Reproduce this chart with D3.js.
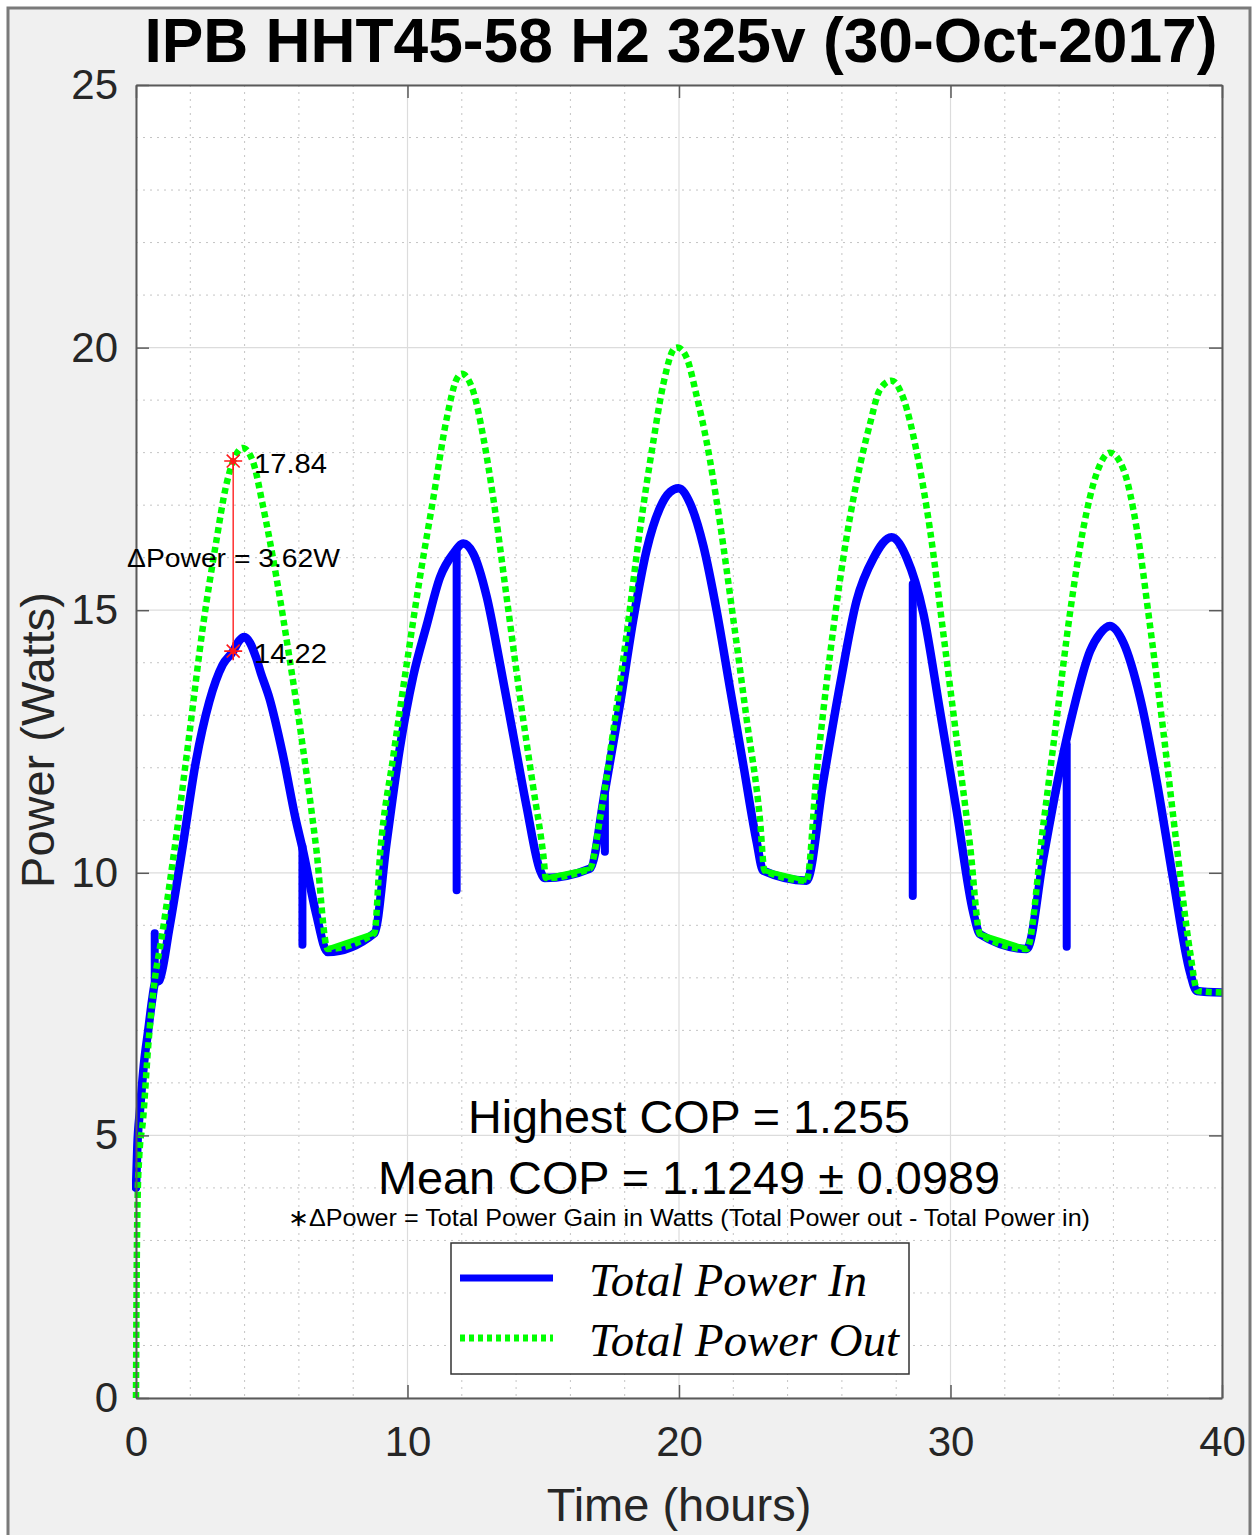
<!DOCTYPE html>
<html>
<head>
<meta charset="utf-8">
<script src="https://cdn.jsdelivr.net/npm/d3@7"></script>
<style>
  html, body { margin: 0; padding: 0; background: #ffffff; }
  svg { display: block; }
</style>
</head>
<body>
<svg id="chart" width="1253" height="1535"></svg>
<script>
// ---------------- DATA ----------------
const chartTitle = "IPB HHT45-58 H2 325v (30-Oct-2017)";
const xLabel = "Time (hours)";
const yLabel = "Power (Watts)";
const xTicks = [0, 10, 20, 30, 40];
const yTicks = [0, 5, 10, 15, 20, 25];
const xMinor = [2, 4, 6, 8, 12, 14, 16, 18, 22, 24, 26, 28, 32, 34, 36, 38];
const yMinor = [1, 2, 3, 4, 6, 7, 8, 9, 11, 12, 13, 14, 16, 17, 18, 19, 21, 22, 23, 24];

const seriesNames = ["Total Power In", "Total Power Out"];

// Total Power In (main trace)
const timeIn = [0, 0.05, 0.15, 0.3, 0.45, 0.6, 0.7, 0.86, 1.23, 1.72, 2.21, 2.7, 3.19, 3.58, 3.8, 3.99, 4.2, 4.42, 4.6, 4.91, 5.4, 5.89, 6.14, 6.63, 7.06,
  8.78, 9.23, 9.72, 10.21, 10.71, 11.2, 11.69, 12.06, 12.42, 12.92, 13.41, 13.9, 14.39, 14.88, 15.06,
  16.72, 17.27, 17.83, 18.32, 18.81, 19.3, 19.67, 19.98, 20.41, 20.9, 21.39, 21.88, 22.37, 22.86, 23.1,
  24.7, 25.31, 25.93, 26.54, 27.16, 27.83, 28.39, 29.0, 29.61, 30.23, 30.84, 31.09,
  32.81, 33.42, 33.91, 34.52, 35.14, 35.5, 35.87, 36.37, 36.98, 37.6, 38.2, 38.82, 39.07, 40];
const powerIn = [4.0, 4.8, 5.5, 6.4, 7.0, 7.6, 7.9, 7.95, 8.95, 10.5, 12.13, 13.26, 13.96, 14.22, 14.42, 14.49, 14.38, 14.1, 13.8, 13.33, 12.27, 11.0, 10.45, 9.23, 8.49,
  8.85, 10.57, 12.38, 13.74, 14.72, 15.63, 16.08, 16.27, 16.08, 15.25, 13.97, 12.61, 11.25, 10.05, 9.9,
  10.08, 11.55, 13.22, 14.83, 16.15, 16.95, 17.25, 17.32, 17.03, 16.22, 14.98, 13.51, 12.05, 10.59, 10.04,
  9.85, 11.73, 13.58, 15.18, 15.99, 16.39, 15.99, 14.94, 13.09, 11.17, 9.24, 8.83,
  8.55, 10.28, 11.65, 13.09, 14.22, 14.55, 14.7, 14.38, 13.34, 11.73, 9.88, 8.11, 7.75, 7.72];

// Total Power In: short downward/upward glitches (time, from, to)
const spikeTime = [0.69, 6.13, 11.81, 17.27, 28.61, 34.28];
const spikeFrom = [7.9, 10.5, 16.15, 11.55, 15.5, 12.45];
const spikeTo = [8.85, 8.63, 9.67, 10.4, 9.56, 8.59];

// Total Power Out
const timeOut = [0, 0.02, 0.06, 0.12, 0.26, 0.45, 0.63, 0.98, 1.47, 1.96, 2.46, 2.95, 3.31, 3.58, 3.93, 4.30, 4.67, 5.16, 5.65, 6.14, 6.63, 7.06,
  8.78, 8.99, 9.48, 9.97, 10.46, 10.95, 11.44, 11.81, 12.0, 12.42, 12.8, 13.16, 13.65, 14.14, 14.63, 15.0, 15.1,
  16.72, 17.09, 17.58, 18.07, 18.56, 19.05, 19.42, 19.85, 19.95, 20.28, 20.65, 21.02, 21.51, 22.0, 22.49, 22.98, 23.15,
  24.7, 25.07, 25.56, 26.05, 26.54, 27.04, 27.4, 27.83, 28.26, 28.76, 29.24, 29.74, 30.23, 30.72, 31.09,
  32.81, 33.42, 33.91, 34.4, 34.89, 35.38, 35.87, 36.37, 36.86, 37.35, 37.84, 38.33, 38.82, 39.1, 40];
const powerOut = [0, 2.0, 3.8, 4.6, 5.3, 6.7, 7.7, 8.88, 10.65, 12.62, 14.67, 16.29, 17.35, 17.84, 18.09, 17.84, 17.0, 15.66, 14.1, 12.41, 10.5, 8.55,
  8.85, 10.35, 12.23, 13.97, 15.63, 17.13, 18.64, 19.4, 19.5, 19.17, 18.27, 17.13, 15.25, 13.36, 11.63, 10.35, 9.9,
  10.08, 11.03, 12.71, 14.54, 16.52, 18.2, 19.3, 19.99, 20.0, 19.81, 19.08, 18.2, 16.66, 14.83, 12.93, 11.03, 10.04,
  9.85, 11.9, 14.14, 15.99, 17.44, 18.56, 19.2, 19.37, 19.04, 18.0, 16.55, 14.54, 12.53, 10.52, 8.83,
  8.55, 10.92, 12.93, 14.94, 16.55, 17.6, 18.0, 17.68, 16.55, 14.7, 12.69, 10.52, 8.51, 7.75, 7.72];

// annotation (data tip) values
const markTime = 3.58;
const markOut = 17.84;
const markIn = 14.22;
const deltaText = "\u0394Power = 3.62W";
const cop1Text = "Highest COP = 1.255";
const cop2Text = "Mean COP = 1.1249 \u00B1 0.0989";
const noteText = "\u2217\u0394Power = Total Power Gain in Watts (Total Power out - Total Power in)";

// ---------------- LAYOUT ----------------
const W = 1253, H = 1535;
const plot = { left: 136, right: 1222, top: 85, bottom: 1398 };
const SANS = "'Liberation Sans', Arial, Helvetica, sans-serif";
const SERIF = "'Liberation Serif', 'Times New Roman', serif";
const svg = d3.select("#chart").style("font-family", SANS);

// figure background and border
svg.append("rect").attr("x", 0).attr("y", 0).attr("width", W).attr("height", H).attr("fill", "#ffffff");
svg.append("rect").attr("x", 8).attr("y", 8).attr("width", W - 11).attr("height", H + 20)
  .attr("fill", "#f0f0f0").attr("stroke", "#7a7a7a").attr("stroke-width", 3);

const x = d3.scaleLinear().domain([0, 40]).range([plot.left, plot.right]);
const y = d3.scaleLinear().domain([0, 25]).range([plot.bottom, plot.top]);

// plot area
svg.append("rect").attr("x", plot.left).attr("y", plot.top)
  .attr("width", plot.right - plot.left).attr("height", plot.bottom - plot.top).attr("fill", "#ffffff");

// minor grid
const grid = svg.append("g");
grid.selectAll(".mx").data(xMinor).join("line")
  .attr("x1", d => x(d)).attr("x2", d => x(d)).attr("y1", plot.top).attr("y2", plot.bottom)
  .attr("stroke", "#c4c4c4").attr("stroke-width", 1).attr("stroke-dasharray", "2,5");
grid.selectAll(".my").data(yMinor).join("line")
  .attr("y1", d => y(d)).attr("y2", d => y(d)).attr("x1", plot.left).attr("x2", plot.right)
  .attr("stroke", "#c4c4c4").attr("stroke-width", 1).attr("stroke-dasharray", "2,5");
// major grid
grid.selectAll(".Mx").data(xTicks).join("line")
  .attr("x1", d => x(d)).attr("x2", d => x(d)).attr("y1", plot.top).attr("y2", plot.bottom)
  .attr("stroke", "#dcdcdc").attr("stroke-width", 1.2);
grid.selectAll(".My").data(yTicks).join("line")
  .attr("y1", d => y(d)).attr("y2", d => y(d)).attr("x1", plot.left).attr("x2", plot.right)
  .attr("stroke", "#dcdcdc").attr("stroke-width", 1.2);

// lines
const lineGen = d3.line().x(d => x(d[0])).y(d => y(d[1])).curve(d3.curveMonotoneX);
const dataIn = timeIn.map((t, i) => [t, powerIn[i]]);
const dataOut = timeOut.map((t, i) => [t, powerOut[i]]);
const spikes = spikeTime.map((t, i) => ({ t, a: spikeFrom[i], b: spikeTo[i] }));

svg.append("clipPath").attr("id", "clip").append("rect")
  .attr("x", plot.left - 4).attr("y", plot.top).attr("width", plot.right - plot.left + 4).attr("height", plot.bottom - plot.top + 4);

const lines = svg.append("g").attr("clip-path", "url(#clip)");
lines.append("path").datum(dataIn).attr("d", lineGen)
  .attr("fill", "none").attr("stroke", "#0000ff").attr("stroke-width", 8.5)
  .attr("stroke-linejoin", "round").attr("stroke-linecap", "round");
lines.selectAll(".spike").data(spikes).join("line")
  .attr("x1", d => x(d.t)).attr("x2", d => x(d.t)).attr("y1", d => y(d.a)).attr("y2", d => y(d.b))
  .attr("stroke", "#0000ff").attr("stroke-width", 8).attr("stroke-linecap", "round");
lines.append("path").datum(dataOut).attr("d", lineGen)
  .attr("fill", "none").attr("stroke", "#00ff00").attr("stroke-width", 6.5)
  .attr("stroke-dasharray", "6,4");
// long flat gaps in the record are drawn as continuous green segments
const gaps = dataOut.slice(1).map((d, i) => [dataOut[i], d]).filter(p => p[1][0] - p[0][0] > 1);
lines.selectAll(".gap").data(gaps).join("line")
  .attr("x1", d => x(d[0][0])).attr("y1", d => y(d[0][1])).attr("x2", d => x(d[1][0])).attr("y2", d => y(d[1][1]))
  .attr("stroke", "#00ff00").attr("stroke-width", 5);

// axes (inward ticks, box)
const axisColor = "#5a5a5a";
const gB = svg.append("g").attr("transform", `translate(0,${plot.bottom})`)
  .call(d3.axisBottom(x).tickValues(xTicks).tickSizeInner(-13).tickSizeOuter(0).tickPadding(28));
const gL = svg.append("g").attr("transform", `translate(${plot.left},0)`)
  .call(d3.axisLeft(y).tickValues(yTicks).tickSizeInner(-13).tickSizeOuter(0).tickPadding(18));
const gT = svg.append("g").attr("transform", `translate(0,${plot.top})`)
  .call(d3.axisTop(x).tickValues(xTicks).tickSizeInner(-13).tickSizeOuter(0).tickFormat(""));
const gR = svg.append("g").attr("transform", `translate(${plot.right},0)`)
  .call(d3.axisRight(y).tickValues(yTicks).tickSizeInner(-13).tickSizeOuter(0).tickFormat(""));
[gB, gL, gT, gR].forEach(g => {
  g.select(".domain").attr("stroke", axisColor).attr("stroke-width", 2);
  g.selectAll(".tick line").attr("stroke", axisColor).attr("stroke-width", 1.5);
  g.selectAll(".tick text").attr("fill", "#262626")
    .style("font-size", "42px").style("font-family", SANS);
});

// title and labels
svg.append("text").attr("x", 681).attr("y", 62).attr("text-anchor", "middle")
  .style("font-size", "63px").style("font-weight", "bold").attr("fill", "#000")
  .attr("textLength", 1073).attr("lengthAdjust", "spacingAndGlyphs").text(chartTitle);
svg.append("text").attr("x", 679).attr("y", 1521).attr("text-anchor", "middle")
  .style("font-size", "47px").attr("fill", "#262626").text(xLabel);
svg.append("text").attr("transform", "translate(54,740) rotate(-90)").attr("text-anchor", "middle")
  .style("font-size", "47px").attr("fill", "#262626").text(yLabel);

// COP texts
svg.append("text").attr("x", 689).attr("y", 1133).attr("text-anchor", "middle")
  .style("font-size", "46px").attr("fill", "#000").attr("textLength", 442).attr("lengthAdjust", "spacingAndGlyphs").text(cop1Text);
svg.append("text").attr("x", 689).attr("y", 1194).attr("text-anchor", "middle")
  .style("font-size", "46px").attr("fill", "#000").attr("textLength", 622).attr("lengthAdjust", "spacingAndGlyphs").text(cop2Text);
svg.append("text").attr("x", 689).attr("y", 1226).attr("text-anchor", "middle")
  .style("font-size", "24px").attr("fill", "#000").attr("textLength", 802).attr("lengthAdjust", "spacingAndGlyphs").text(noteText);

// annotation: red line and stars
const ann = svg.append("g");
ann.append("line").attr("x1", x(markTime)).attr("x2", x(markTime)).attr("y1", y(markOut)).attr("y2", y(markIn))
  .attr("stroke", "#ff3030").attr("stroke-width", 1.5);
[markOut, markIn].forEach(v => {
  const cx = x(markTime), cy = y(v), r = 9;
  const p = d3.path();
  p.moveTo(cx - r, cy); p.lineTo(cx + r, cy);
  p.moveTo(cx, cy - r); p.lineTo(cx, cy + r);
  const r2 = r * 0.72;
  p.moveTo(cx - r2, cy - r2); p.lineTo(cx + r2, cy + r2);
  p.moveTo(cx - r2, cy + r2); p.lineTo(cx + r2, cy - r2);
  ann.append("path").attr("d", p.toString()).attr("stroke", "#ff1a1a").attr("stroke-width", 1.6).attr("fill", "none");
  ann.append("circle").attr("cx", cx).attr("cy", cy).attr("r", 3).attr("fill", "#ff1a1a");
});
ann.append("text").attr("x", 254).attr("y", y(markOut) + 12).style("font-size", "28px").attr("fill", "#000")
  .attr("textLength", 73).attr("lengthAdjust", "spacingAndGlyphs").text(markOut.toFixed(2));
ann.append("text").attr("x", 254).attr("y", y(markIn) + 12).style("font-size", "28px").attr("fill", "#000")
  .attr("textLength", 73).attr("lengthAdjust", "spacingAndGlyphs").text(markIn.toFixed(2));
ann.append("text").attr("x", 127).attr("y", 567).style("font-size", "25px").attr("fill", "#000")
  .attr("textLength", 213).attr("lengthAdjust", "spacingAndGlyphs").text(deltaText);

// legend
const lg = svg.append("g");
lg.append("rect").attr("x", 451).attr("y", 1243).attr("width", 458).attr("height", 131)
  .attr("fill", "#ffffff").attr("stroke", "#333333").attr("stroke-width", 1.5);
lg.append("line").attr("x1", 460).attr("x2", 553).attr("y1", 1278).attr("y2", 1278)
  .attr("stroke", "#0000ff").attr("stroke-width", 7);
lg.append("line").attr("x1", 460).attr("x2", 553).attr("y1", 1338).attr("y2", 1338)
  .attr("stroke", "#00ff00").attr("stroke-width", 7).attr("stroke-dasharray", "5,4");
lg.append("text").attr("x", 589).attr("y", 1296).attr("fill", "#000")
  .style("font-size", "46px").style("font-style", "italic").style("font-family", SERIF)
  .attr("textLength", 278).attr("lengthAdjust", "spacingAndGlyphs").text(seriesNames[0]);
lg.append("text").attr("x", 589).attr("y", 1356).attr("fill", "#000")
  .style("font-size", "46px").style("font-style", "italic").style("font-family", SERIF)
  .attr("textLength", 310).attr("lengthAdjust", "spacingAndGlyphs").text(seriesNames[1]);
</script>
</body>
</html>
